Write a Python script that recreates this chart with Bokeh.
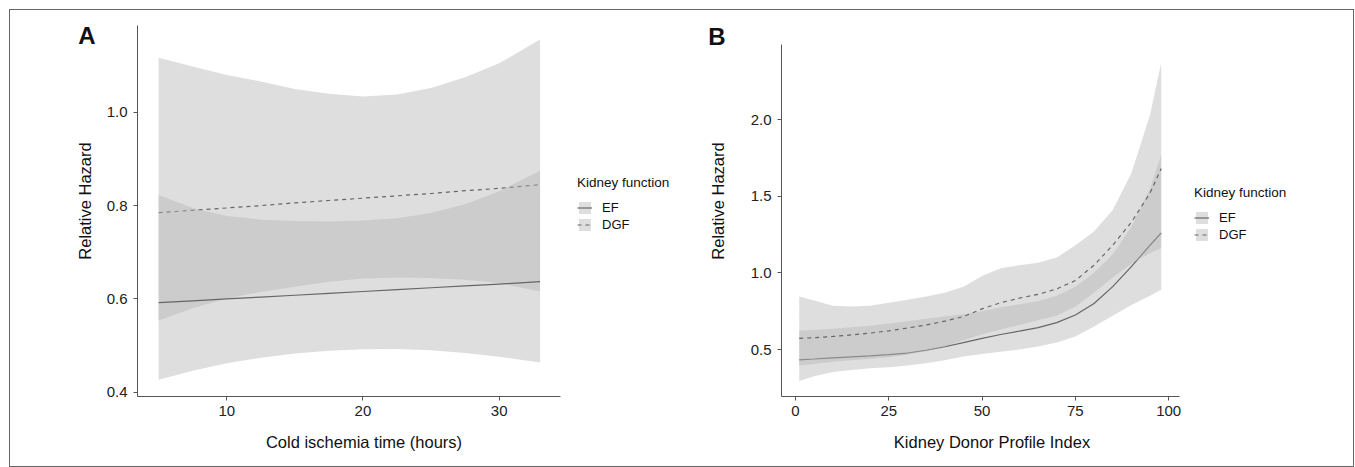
from bokeh.plotting import figure
from bokeh.layouts import row
from bokeh.models import Range1d, FixedTicker, Legend, LegendItem, Div
from bokeh.embed import file_html
from bokeh.resources import INLINE

# ---------------- Panel A data (Cold ischemia time) ----------------
cit_hours = [5, 7.5, 10, 12.5, 15, 17.5, 20, 22.5, 25, 27.5, 30, 33]
a_ef_hr = [0.592, 0.596, 0.600, 0.604, 0.608, 0.612, 0.616, 0.620, 0.624, 0.628, 0.632, 0.637]
a_ef_lo = [0.554, 0.580, 0.601, 0.615, 0.626, 0.637, 0.644, 0.646, 0.645, 0.641, 0.634, 0.616]
a_ef_hi = [0.823, 0.795, 0.778, 0.770, 0.767, 0.766, 0.768, 0.773, 0.784, 0.803, 0.831, 0.875]
a_dgf_hr = [0.785, 0.790, 0.795, 0.800, 0.806, 0.811, 0.816, 0.821, 0.826, 0.832, 0.837, 0.845]
a_dgf_lo = [0.427, 0.446, 0.462, 0.474, 0.483, 0.489, 0.492, 0.493, 0.490, 0.484, 0.476, 0.464]
a_dgf_hi = [1.117, 1.098, 1.080, 1.066, 1.050, 1.040, 1.034, 1.038, 1.052, 1.075, 1.105, 1.156]
a_x_ticks = [10, 20, 30]
a_y_ticks = [0.4, 0.6, 0.8, 1.0]
a_y_labels = ["0.4", "0.6", "0.8", "1.0"]

# ---------------- Panel B data (KDPI) ----------------
kdpi = [1, 5, 10, 15, 20, 25, 30, 35, 40, 45, 50, 55, 60, 65, 70, 75, 80, 85, 90, 95, 98]
b_ef_hr = [0.433, 0.438, 0.446, 0.452, 0.458, 0.466, 0.477, 0.495, 0.518, 0.545, 0.573,
           0.598, 0.620, 0.643, 0.675, 0.725, 0.80, 0.91, 1.04, 1.18, 1.26]
b_ef_lo = [0.294, 0.325, 0.353, 0.367, 0.377, 0.385, 0.395, 0.41, 0.43, 0.455, 0.47,
           0.485, 0.50, 0.52, 0.545, 0.585, 0.65, 0.72, 0.79, 0.85, 0.89]
b_ef_hi = [0.623, 0.628, 0.636, 0.645, 0.655, 0.67, 0.685, 0.70, 0.715, 0.73, 0.75,
           0.775, 0.795, 0.815, 0.85, 0.91, 1.0, 1.12, 1.30, 1.55, 1.77]
b_dgf_hr = [0.573, 0.577, 0.585, 0.595, 0.607, 0.622, 0.64, 0.66, 0.685, 0.715, 0.765,
            0.805, 0.835, 0.86, 0.895, 0.95, 1.05, 1.18, 1.33, 1.52, 1.68]
b_dgf_lo = [0.396, 0.405, 0.42, 0.43, 0.44, 0.45, 0.465, 0.49, 0.52, 0.56, 0.60,
            0.63, 0.66, 0.69, 0.72, 0.78, 0.87, 0.97, 1.06, 1.13, 1.16]
b_dgf_hi = [0.846, 0.82, 0.786, 0.78, 0.785, 0.805, 0.825, 0.845, 0.87, 0.91, 0.98,
            1.03, 1.05, 1.065, 1.10, 1.18, 1.27, 1.41, 1.65, 2.03, 2.37]
b_x_ticks = [0, 25, 50, 75, 100]
b_y_ticks = [0.5, 1.0, 1.5, 2.0]
b_y_labels = ["0.5", "1.0", "1.5", "2.0"]

groups = ["EF", "DGF"]
legend_title = "Kidney function"
panel_tags = ["A", "B"]
x_titles = ["Cold ischemia time (hours)", "Kidney Donor Profile Index"]
y_title = "Relative Hazard"

FONT = "Liberation Sans"
BAND_COLOR = "#b6b6b6"
BAND_ALPHA = 0.45
LINE_COLOR = "#666666"
AXIS_COLOR = "#555555"
TEXT_COLOR = "#222222"


def style_axes(p, xticks, yticks, ylabels, xbounds, ybounds):
    p.xaxis.ticker = FixedTicker(ticks=xticks)
    p.yaxis.ticker = FixedTicker(ticks=yticks)
    p.yaxis.major_label_overrides = {t: l for t, l in zip(yticks, ylabels)}
    p.xaxis.bounds = xbounds
    p.yaxis.bounds = ybounds
    for ax in (p.xaxis[0], p.yaxis[0]):
        ax.axis_line_color = AXIS_COLOR
        ax.axis_line_width = 1
        ax.major_tick_line_color = AXIS_COLOR
        ax.major_tick_in = 0
        ax.major_tick_out = 4
        ax.minor_tick_line_color = None
        ax.major_label_text_font = FONT
        ax.major_label_text_font_size = "15px"
        ax.major_label_text_color = TEXT_COLOR
    p.xaxis.major_label_standoff = 5
    p.yaxis.major_label_standoff = 6
    p.xgrid.visible = False
    p.ygrid.visible = False
    p.outline_line_color = None


def add_series(p, x, lo, hi, hr, dash):
    band = p.varea(x=x, y1=lo, y2=hi, fill_color=BAND_COLOR, fill_alpha=BAND_ALPHA)
    ln = p.line(x=x, y=hr, line_color=LINE_COLOR, line_width=1.2, line_dash=dash)
    return band, ln


def add_legend(p, items, loc):
    lg = Legend(items=items, location=loc, title=legend_title)
    lg.title_text_font = FONT
    lg.title_text_font_size = "13.5px"
    lg.title_text_font_style = "normal"
    lg.title_text_color = "#111111"
    lg.title_standoff = 10
    lg.label_text_font = FONT
    lg.label_text_font_size = "13px"
    lg.label_text_color = "#111111"
    lg.glyph_width = 15
    lg.glyph_height = 15
    lg.label_height = 15
    lg.label_standoff = 10
    lg.spacing = 2
    lg.padding = 0
    lg.margin = 0
    lg.border_line_color = None
    lg.background_fill_alpha = 0
    p.add_layout(lg)


def text_div(text, left, top, width, height, size, bold=False, rotate=False):
    st = {"position": "absolute", "left": f"{left}px", "top": f"{top}px",
          "width": f"{width}px", "height": f"{height}px", "line-height": f"{height}px",
          "font-family": FONT, "font-size": size, "color": "#111111",
          "font-weight": "bold" if bold else "normal", "text-align": "center",
          "margin": "0", "padding": "0", "white-space": "nowrap"}
    if rotate:
        st["transform"] = "rotate(-90deg)"
        st["transform-origin"] = "center center"
    return Div(text=text, width=width, height=height, styles=st)


# ---------------- Figure A ----------------
# the plotting frame also spans the legend area; axis lines are bounded to the data ranges
a_xmin, a_xmax = 3.45, 34.5
a_px_per_unit = 423 / (a_xmax - a_xmin)
a_ymin, a_ymax = 0.391, 1.186
pa = figure(width=680, height=456, output_backend="svg", toolbar_location=None,
            x_range=Range1d(a_xmin, a_xmin + 553 / a_px_per_unit), y_range=Range1d(a_ymin, a_ymax),
            min_border_left=127, min_border_right=0, min_border_top=15,
            min_border_bottom=70, background_fill_color="white", border_fill_color="white")
style_axes(pa, a_x_ticks, a_y_ticks, a_y_labels, (a_xmin, a_xmax), (a_ymin, a_ymax))
a_band_dgf, a_line_dgf = add_series(pa, cit_hours, a_dgf_lo, a_dgf_hi, a_dgf_hr, "4 4")
a_band_ef, a_line_ef = add_series(pa, cit_hours, a_ef_lo, a_ef_hi, a_ef_hr, "solid")
add_legend(pa, [LegendItem(label=groups[0], renderers=[a_band_ef, a_line_ef]),
                LegendItem(label=groups[1], renderers=[a_band_dgf, a_line_dgf])], (440, 164))

# ---------------- Figure B ----------------
b_xmin, b_xmax = -3.75, 102.9
b_px_per_unit = 398 / (b_xmax - b_xmin)
b_ymin, b_y_axis_top, b_ymax = 0.1935, 2.4896, 2.6131
pb = figure(width=663, height=456, output_backend="svg", toolbar_location=None,
            x_range=Range1d(b_xmin, b_xmin + 572 / b_px_per_unit), y_range=Range1d(b_ymin, b_ymax),
            min_border_left=91, min_border_right=0, min_border_top=15,
            min_border_bottom=70, background_fill_color="white", border_fill_color="white")
style_axes(pb, b_x_ticks, b_y_ticks, b_y_labels, (b_xmin, b_xmax), (b_ymin, b_y_axis_top))
b_band_ef, b_line_ef = add_series(pb, kdpi, b_ef_lo, b_ef_hi, b_ef_hr, "solid")
b_band_dgf, b_line_dgf = add_series(pb, kdpi, b_dgf_lo, b_dgf_hi, b_dgf_hr, "4 4")
add_legend(pb, [LegendItem(label=groups[0], renderers=[b_band_ef, b_line_ef]),
                LegendItem(label=groups[1], renderers=[b_band_dgf, b_line_dgf])], (413, 154))

layout = row(pa, pb, styles={"border": "1px solid #666666", "margin": "9px 0 0 9px"})

roots = [
    layout,
    text_div(x_titles[0], 214, 432, 300, 20, "16.5px"),
    text_div(x_titles[1], 842, 432, 300, 20, "16.5px"),
    text_div(y_title, -15, 191, 200, 20, "16.5px", rotate=True),
    text_div(y_title, 618, 191, 200, 20, "16.5px", rotate=True),
    text_div(panel_tags[0], 70, 22, 34, 28, "24px", bold=True),
    text_div(panel_tags[1], 700, 23, 34, 28, "24px", bold=True),
]

open("out.html", "w").write(file_html(roots, INLINE))
